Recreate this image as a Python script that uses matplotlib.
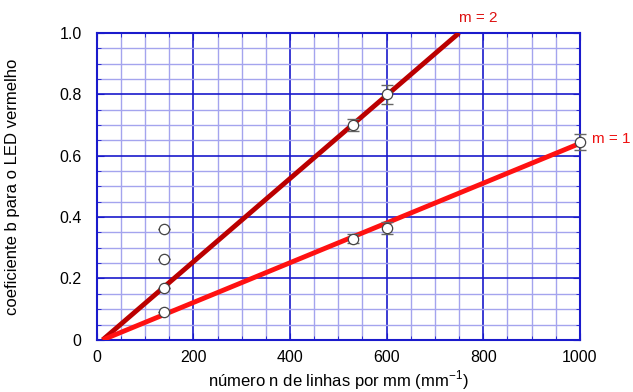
import numpy as np
import matplotlib.pyplot as plt
from matplotlib.ticker import MultipleLocator

plt.rcParams['font.family'] = ['Liberation Sans', 'DejaVu Sans']

# data
n_pts = [140, 140, 140, 140, 530, 530, 600, 600, 1000]
b_pts = [0.36, 0.265, 0.17, 0.09, 0.70, 0.33, 0.80, 0.365, 0.645]
b_err = [0, 0, 0, 0, 0.02, 0.015, 0.03, 0.02, 0.025]

# fitted lines (end points)
fit1_x = [12, 1000]
fit1_y = [0.0, 0.64]
fit2_x = [12, 750]
fit2_y = [0.0, 1.0]

fig = plt.figure(figsize=(6.33, 3.92), dpi=100)
ax = fig.add_axes([0.153, 0.133, 0.763, 0.783])

ax.set_xlim(0, 1000)
ax.set_ylim(0, 1.0)

ax.xaxis.set_major_locator(MultipleLocator(200))
ax.xaxis.set_minor_locator(MultipleLocator(50))
ax.yaxis.set_major_locator(MultipleLocator(0.2))
ax.yaxis.set_minor_locator(MultipleLocator(0.05))

ax.grid(which='minor', color='#a4a4ee', linewidth=1.0)
ax.grid(which='major', color='#1a1acc', linewidth=1.2)
ax.set_axisbelow(True)

for s in ax.spines.values():
    s.set_color('#1a1acc')
    s.set_linewidth(1.5)

ax.tick_params(which='both', direction='in', top=True, right=True,
               colors='#1a1acc', labelcolor='black', labelsize=11.5)
ax.tick_params(which='major', length=5)
ax.tick_params(which='minor', length=3)
ax.tick_params(axis='y', which='major', pad=11)
ax.tick_params(axis='x', which='major', pad=7)
ax.set_yticks([0, 0.2, 0.4, 0.6, 0.8, 1.0])
ax.set_yticklabels(['0', '0.2', '0.4', '0.6', '0.8', '1.0'])

ax.plot(fit2_x, fit2_y, color='#bb0000', linewidth=3.5, solid_capstyle='butt', zorder=3)
ax.plot(fit1_x, fit1_y, color='#ff1111', linewidth=3.5, solid_capstyle='butt', zorder=3)

ax.errorbar(n_pts, b_pts, yerr=b_err, fmt='none', ecolor='#666666',
            elinewidth=1, capsize=4, zorder=4, clip_on=False)
ax.scatter(n_pts, b_pts, s=55, facecolor='white', edgecolor='#444444',
           linewidth=0.9, zorder=5, clip_on=False)

ax.text(750, 1.05, 'm = 2', color='#dd1111', fontsize=11, ha='left', va='center')
ax.text(1025, 0.655, 'm = 1', color='#ee1111', fontsize=11, ha='left', va='center')

ax.set_xlabel('número n de linhas por mm (mm$^{\\mathregular{-1}}$)', fontsize=12, labelpad=3)
ax.set_ylabel('coeficiente b para o LED vermelho', fontsize=12, labelpad=28)

fig.savefig('out.png', dpi=100)
